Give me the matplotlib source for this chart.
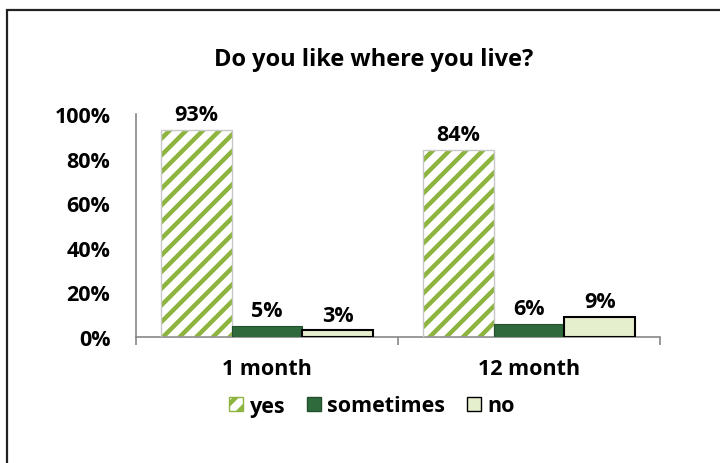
import matplotlib
matplotlib.use("Agg")
import matplotlib.pyplot as plt
from matplotlib.patches import Patch, Rectangle
import numpy as np

# data
periods = ["1 month", "12 month"]
answers = ["yes", "sometimes", "no"]
yes = [0.93, 0.84]
sometimes = [0.05, 0.06]
no = [0.03, 0.09]

plt.rcParams["font.family"] = ["Open Sans", "DejaVu Sans"]
plt.rcParams["font.weight"] = "bold"
plt.rcParams["hatch.linewidth"] = 3.2

STRIPE = "#8cb43e"
DARK = "#2e6a3c"
PALE = "#e5eecd"
FS = 15.5

fig = plt.figure(figsize=(7.2, 4.64), dpi=100)
# outer chart-area border (runs off the right/bottom of the picture)
fig.patches.append(Rectangle((7 / 720, -0.1), 1.0, 1 - 11 / 464 + 0.1,
                             transform=fig.transFigure, fill=False,
                             edgecolor="#222222", linewidth=1.6))

ax = fig.add_axes([136 / 720, 126 / 464, 524 / 720, 223 / 464])
x = np.arange(len(periods))
bw = 0.27

# yes: white bar with green diagonal stripes
ax.bar(x - bw, yes, width=bw, color="white", edgecolor=STRIPE, hatch="//",
       linewidth=0, zorder=2)
ax.bar(x - bw, yes, width=bw, fill=False, edgecolor="#c8c8c8", linewidth=1,
       zorder=3)
ax.bar(x, sometimes, width=bw, color=DARK, edgecolor="#244f2e", linewidth=0.8,
       zorder=3)
ax.bar(x + bw, no, width=bw, color=PALE, edgecolor="black", linewidth=1.5,
       zorder=3)

for off, vals in zip([-bw, 0, bw], [yes, sometimes, no]):
    for xi, v in zip(x, vals):
        ax.text(xi + off, v + 0.02, f"{v:.0%}", ha="center", va="bottom",
                fontsize=FS, fontweight="bold")

ax.set_xlim(-0.5, 1.5)
ax.set_ylim(0, 1)
ax.set_yticks(np.linspace(0, 1, 6), [f"{v:.0%}" for v in np.linspace(0, 1, 6)])
ax.tick_params(axis="y", length=0, pad=18.5, labelsize=FS)
ax.set_xticks(x, periods)
ax.set_xticks([-0.5, 0.5, 1.5], minor=True)
ax.tick_params(axis="x", which="major", length=0, pad=15, labelsize=FS)
ax.tick_params(axis="x", which="minor", length=6, color="#888888", width=1.2)
for s in ["top", "right"]:
    ax.spines[s].set_visible(False)
for s in ["left", "bottom"]:
    ax.spines[s].set_color("#888888")
    ax.spines[s].set_linewidth(1.2)

fig.text(374 / 720, 1 - 60 / 464, "Do you like where you live?", ha="center",
         va="center", fontsize=17, fontweight="bold")

handles = [Patch(facecolor="white", edgecolor=STRIPE, hatch="//"),
           Patch(facecolor=DARK, edgecolor="#244f2e"),
           Patch(facecolor=PALE, edgecolor="black")]
fig.legend(handles, answers, loc="center", bbox_to_anchor=(372 / 720, 1 - 407 / 464),
           ncol=3, frameon=False, handlelength=0.65, handleheight=0.65,
           handletextpad=0.3, columnspacing=1.0, prop={"weight": "bold", "size": FS})

fig.savefig("out.png")
